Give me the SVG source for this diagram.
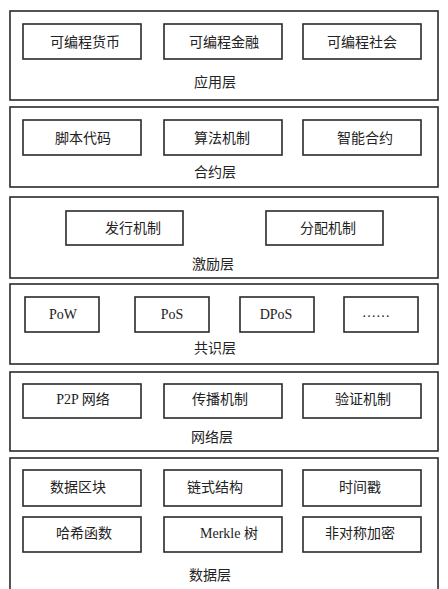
<svg xmlns="http://www.w3.org/2000/svg" width="448" height="589" viewBox="0 0 448 589">
<style>
.layer{fill:#fff;stroke:#2a2a2a;stroke-width:1.6}
.box{fill:#fff;stroke:#2a2a2a;stroke-width:1.6}
text{font-family:"Liberation Serif","Noto Sans CJK SC",serif;font-size:14px;fill:#222;text-anchor:middle}
</style>
<rect width="448" height="589" fill="#fff"/>
<g id="layer-app">
<rect class="layer" x="10" y="11" width="428" height="89"/>
<text x="215" y="87">应用层</text>
</g>
<g id="node-app1"><rect class="box" x="23" y="24" width="118" height="35"/><text x="85" y="47">可编程货币</text></g>
<g id="node-app2"><rect class="box" x="164" y="24" width="118" height="35"/><text x="224" y="47">可编程金融</text></g>
<g id="node-app3"><rect class="box" x="303" y="24" width="118" height="35"/><text x="362" y="47">可编程社会</text></g>

<g id="layer-contract">
<rect class="layer" x="10" y="107" width="428" height="80"/>
<text x="215" y="177">合约层</text>
</g>
<g id="node-c1"><rect class="box" x="23" y="120" width="118" height="35"/><text x="83" y="143">脚本代码</text></g>
<g id="node-c2"><rect class="box" x="164" y="120" width="118" height="35"/><text x="222" y="143">算法机制</text></g>
<g id="node-c3"><rect class="box" x="303" y="120" width="118" height="35"/><text x="365" y="143">智能合约</text></g>

<g id="layer-incentive">
<rect class="layer" x="10" y="197" width="428" height="81"/>
<text x="213" y="269">激励层</text>
</g>
<g id="node-i1"><rect class="box" x="66" y="211" width="117" height="34"/><text x="133" y="233">发行机制</text></g>
<g id="node-i2"><rect class="box" x="266" y="211" width="117" height="34"/><text x="328" y="233">分配机制</text></g>

<g id="layer-consensus">
<rect class="layer" x="10" y="284" width="428" height="80"/>
<text x="215" y="353">共识层</text>
</g>
<g id="node-k1"><rect class="box" x="25" y="297" width="74" height="35"/><text x="63" y="319">PoW</text></g>
<g id="node-k2"><rect class="box" x="135" y="297" width="74" height="35"/><text x="172" y="319">PoS</text></g>
<g id="node-k3"><rect class="box" x="240" y="297" width="74" height="35"/><text x="276" y="319">DPoS</text></g>
<g id="node-k4"><rect class="box" x="344" y="297" width="74" height="35"/><text x="376" y="317">……</text></g>

<g id="layer-network">
<rect class="layer" x="10" y="372" width="428" height="79"/>
<text x="212" y="442">网络层</text>
</g>
<g id="node-n1"><rect class="box" x="23" y="384" width="118" height="34"/><text x="83" y="404">P2P 网络</text></g>
<g id="node-n2"><rect class="box" x="164" y="384" width="118" height="34"/><text x="220" y="404">传播机制</text></g>
<g id="node-n3"><rect class="box" x="303" y="384" width="118" height="34"/><text x="363" y="404">验证机制</text></g>

<g id="layer-data">
<rect class="layer" x="10" y="458" width="428" height="140"/>
<text x="210" y="580">数据层</text>
</g>
<g id="node-d1"><rect class="box" x="23" y="470" width="118" height="36"/><text x="78" y="492">数据区块</text></g>
<g id="node-d2"><rect class="box" x="164" y="470" width="118" height="36"/><text x="215" y="492">链式结构</text></g>
<g id="node-d3"><rect class="box" x="303" y="470" width="118" height="36"/><text x="360" y="492">时间戳</text></g>
<g id="node-d4"><rect class="box" x="23" y="517" width="118" height="35"/><text x="84" y="538">哈希函数</text></g>
<g id="node-d5"><rect class="box" x="164" y="517" width="118" height="35"/><text x="229" y="538">Merkle 树</text></g>
<g id="node-d6"><rect class="box" x="303" y="517" width="118" height="35"/><text x="360" y="538">非对称加密</text></g>
<g id="connectors"></g>
</svg>
